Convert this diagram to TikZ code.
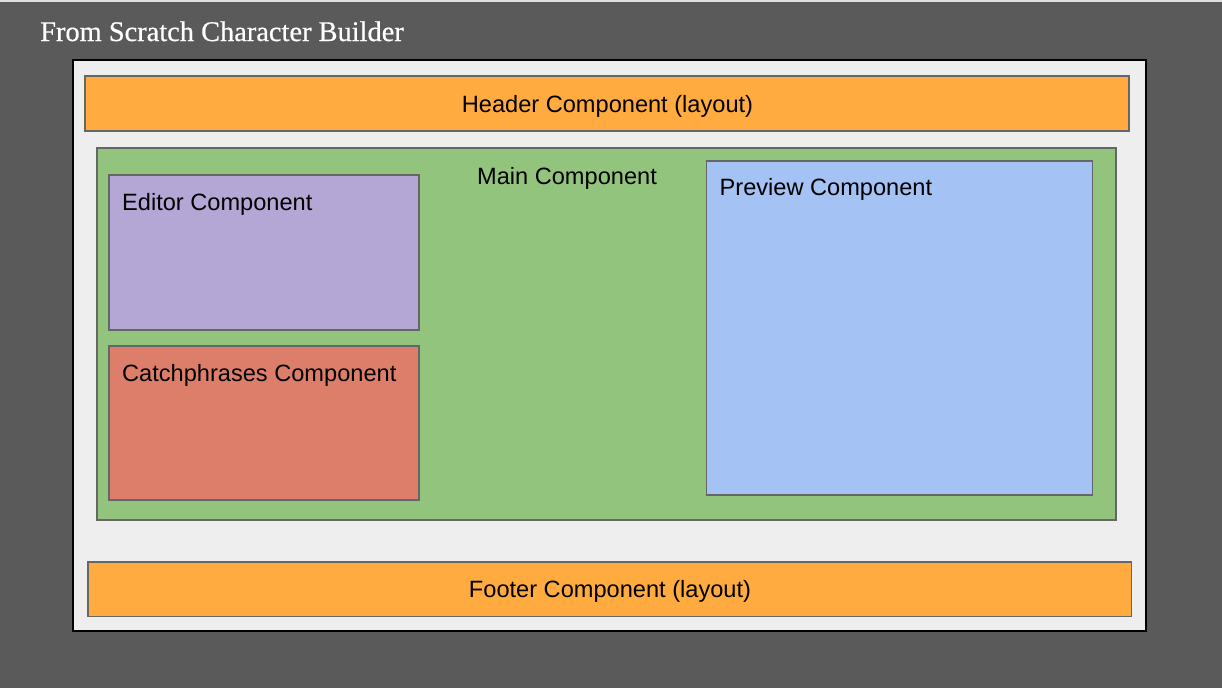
\documentclass[tikz,border=0pt]{standalone}
\usepackage{fontspec}
\setmainfont{Liberation Sans}
\newfontfamily\titlefont[FakeBold=0.6]{Liberation Serif}
\definecolor{bgdark}{HTML}{5A5A5A}
\definecolor{pagefill}{HTML}{EEEEEE}
\definecolor{orangebar}{HTML}{FFAB40}
\definecolor{greenmain}{HTML}{93C47D}
\definecolor{purplebox}{HTML}{B4A7D6}
\definecolor{redbox}{HTML}{DD7E6B}
\definecolor{bluebox}{HTML}{A4C2F4}
\definecolor{edgegray}{HTML}{666666}
\begin{document}
\begin{tikzpicture}[x=1pt,y=-1pt,
  region/.style={draw=edgegray, line width=1.2pt, rectangle, inner sep=0pt, outer sep=0pt, anchor=north west},
  lbl/.style={font=\fontsize{23.6}{26}\selectfont, text=black, inner sep=0pt, anchor=base},
  lbll/.style={lbl, anchor=base west}]
\useasboundingbox (0,0) rectangle (1222,688);
\fill[bgdark] (0,0) rectangle (1222,688);
\fill[gray!25] (0,0) rectangle (1222,1.5);
\node[anchor=base west, inner sep=0pt, text=white, font=\titlefont\fontsize{28.4}{32}\selectfont] (title) at (40,41) {From Scratch Character Builder};
\node[draw=black, line width=2.6pt, fill=pagefill, rectangle, inner sep=0pt, outer sep=0pt, anchor=north west, minimum width=1073pt, minimum height=571pt] (page) at (73,60) {};
\node[region, fill=orangebar, minimum width=1044pt, minimum height=55pt] (header) at (85,76) {};
\node[lbl] (headertxt) at (607.5,112) {Header Component (layout)};
\node[region, fill=greenmain, minimum width=1019pt, minimum height=372pt] (main) at (97,148) {};
\node[lbl] (maintxt) at (567,184) {Main Component};
\node[region, fill=purplebox, minimum width=310pt, minimum height=155pt] (editor) at (109,175) {};
\node[lbll] (editortxt) at (122,210) {Editor Component};
\node[region, fill=redbox, minimum width=310pt, minimum height=154pt] (catch) at (109,346) {};
\node[lbll] (catchtxt) at (122,381) {Catchphrases Component};
\node[region, fill=bluebox, minimum width=386pt, minimum height=334pt] (preview) at (706.5,161) {};
\node[lbll] (previewtxt) at (719.5,195.5) {Preview Component};
\node[region, fill=orangebar, minimum width=1043.5pt, minimum height=54.5pt] (footer) at (88,562) {};
\node[lbl] (footertxt) at (610,597.5) {Footer Component (layout)};
\end{tikzpicture}
\end{document}
